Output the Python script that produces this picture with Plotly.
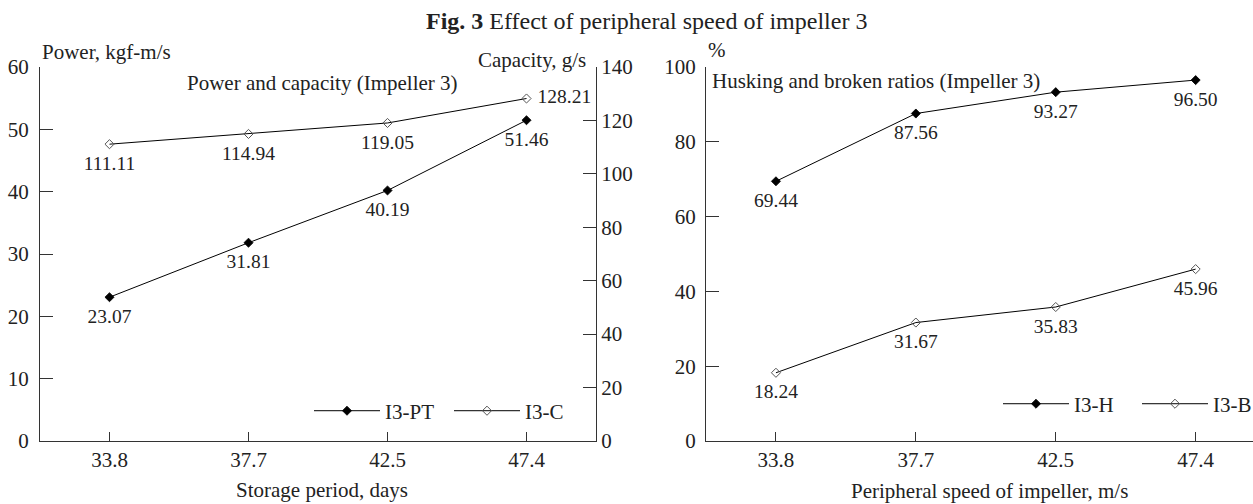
import plotly.graph_objects as go

# ---- data ----
storage_days = ["33.8", "37.7", "42.5", "47.4"]
speed_ms = ["33.8", "37.7", "42.5", "47.4"]
power_i3 = [23.07, 31.81, 40.19, 51.46]
capacity_i3 = [111.11, 114.94, 119.05, 128.21]
husking_i3 = [69.44, 87.56, 93.27, 96.50]
broken_i3 = [18.24, 31.67, 35.83, 45.96]

FONT = "Liberation Serif"
TXT = "#222"
TICK_SIZE = 21
LABEL_SIZE = 19.5
TITLE_SIZE = 21
LEG_SYMBOL_W = 66

W, H = 1253, 504
ML, MR, MT, MB = 40, 0, 67, 62.5
PW = W - ML - MR
PH = H - MT - MB


def px(xpix):
    return (xpix - ML) / PW


def py(ypix):
    return (H - MB - ypix) / PH


def fmt(vals):
    return [f"{v:.2f}" for v in vals]


fig = go.Figure()

filled = dict(symbol="diamond", size=7, color="black", line=dict(width=0.8, color="black"))
hollow = dict(symbol="diamond-open", size=7, color="#555", line=dict(width=1, color="#555"))
lbl = dict(family=FONT, size=LABEL_SIZE, color=TXT)


def add_series(x, y, name, marker, xa, ya, leg, positions):
    # visible line + markers (legend entry)
    fig.add_trace(go.Scatter(
        x=x, y=y, name=name, mode="lines+markers",
        line=dict(color="black", width=1), marker=marker,
        xaxis=xa, yaxis=ya, legend=leg, hoverinfo="skip",
    ))
    # value labels, offset from the points like the reference
    fig.add_trace(go.Scatter(
        x=x, y=y, mode="markers+text", showlegend=False,
        marker=dict(size=16, color="rgba(0,0,0,0)"),
        text=fmt(y), textposition=positions, textfont=lbl,
        xaxis=xa, yaxis=ya, hoverinfo="skip", cliponaxis=False,
    ))


add_series(storage_days, power_i3, "I3-PT", filled, "x", "y", "legend", "bottom center")
add_series(storage_days, capacity_i3, "I3-C", hollow, "x", "y2", "legend",
           ["bottom center", "bottom center", "bottom center", "middle right"])
add_series(speed_ms, husking_i3, "I3-H", filled, "x2", "y3", "legend2", "bottom center")
add_series(speed_ms, broken_i3, "I3-B", hollow, "x2", "y3", "legend2", "bottom center")

axis_common = dict(
    showline=True, linecolor="#333", linewidth=1.3, ticks="inside",
    tickcolor="#333", tickwidth=1.3, showgrid=False, zeroline=False,
    tickfont=dict(family=FONT, size=TICK_SIZE, color=TXT),
)
x_common = dict(axis_common, ticklen=9, type="category")
y_common = dict(axis_common, ticklen=13)

legend_common = dict(
    orientation="h", xanchor="left", yanchor="top",
    font=dict(family=FONT, size=TICK_SIZE, color=TXT),
    bgcolor="rgba(0,0,0,0)", borderwidth=0,
    itemwidth=LEG_SYMBOL_W, entrywidthmode="pixels",
    itemclick=False, itemdoubleclick=False,
)

fig.update_layout(
    width=W, height=H,
    margin=dict(l=ML, r=MR, t=MT, b=MB, pad=0, autoexpand=False),
    paper_bgcolor="white", plot_bgcolor="white",
    font=dict(family=FONT, color=TXT),
    xaxis=dict(x_common, domain=[0, px(596)], range=[-0.5, 3.5], anchor="y"),
    yaxis=dict(y_common, range=[0, 60], tickvals=[0, 10, 20, 30, 40, 50, 60],
               anchor="x", ticklabelstandoff=6),
    yaxis2=dict(y_common, range=[0, 140],
                tickvals=[0, 20, 40, 60, 80, 100, 120, 140],
                overlaying="y", side="right", anchor="x"),
    xaxis2=dict(x_common, domain=[px(706), 1], range=[-0.5, 3.41], anchor="y3"),
    yaxis3=dict(y_common, range=[0, 100], tickvals=[0, 20, 40, 60, 80, 100],
                anchor="x2", ticklabelstandoff=5),
    legend=dict(legend_common, x=px(309), y=py(391), entrywidth=59),
    legend2=dict(legend_common, x=px(998), y=py(384), entrywidth=58),
    showlegend=True,
)

ann = [
    dict(text="<b>Fig. 3</b> Effect of peripheral speed of impeller 3", x=px(647), y=py(21),
         xanchor="center", yanchor="middle", size=24),
    dict(text="Power, kgf-m/s", x=px(40), y=py(52), xanchor="left", yanchor="middle",
         size=TITLE_SIZE),
    dict(text="Capacity, g/s", x=px(588), y=py(60), xanchor="right", yanchor="middle",
         size=TITLE_SIZE),
    dict(text="Power and capacity (Impeller 3)", x=px(185), y=py(83), xanchor="left",
         yanchor="middle", size=TITLE_SIZE),
    dict(text="%", x=px(706), y=py(50), xanchor="left", yanchor="middle",
         size=TITLE_SIZE),
    dict(text="Husking and broken ratios (Impeller 3)", x=px(710), y=py(81),
         xanchor="left", yanchor="middle", size=TITLE_SIZE),
    dict(text="Storage period, days", x=px(322), y=py(491), xanchor="center",
         yanchor="middle", size=TITLE_SIZE),
    dict(text="Peripheral speed of impeller, m/s", x=px(989), y=py(492),
         xanchor="center", yanchor="middle", size=TITLE_SIZE),
]
annotations = []
for a in ann:
    size = a.pop("size")
    a.update(xref="paper", yref="paper", showarrow=False,
             font=dict(family=FONT, color=TXT, size=size))
    annotations.append(a)
fig.update_layout(annotations=annotations)

# make sure the legend sample lines span the full symbol width
post = """
var gd = document.getElementsByClassName('plotly-graph-div')[0];
gd.querySelectorAll('.scrollbox').forEach(function(s){ s.removeAttribute('clip-path'); });
gd.querySelectorAll('.legendlines path').forEach(function(p){
    p.setAttribute('d', 'M5,0h%d');
});
""" % LEG_SYMBOL_W
fig.write_html("out.html", post_script=post)
